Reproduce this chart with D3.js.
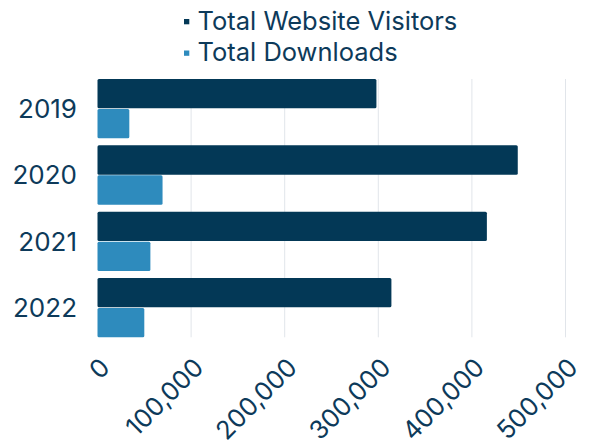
<!DOCTYPE html>
<html>
<head>
<meta charset="utf-8">
<script src="https://cdn.jsdelivr.net/npm/d3@7"></script>
<style>
  body { margin: 0; background: #fff; }
  text { font-family: Inter, "Noto Sans", sans-serif; fill: #0d3a5a; }
</style>
</head>
<body>
<div id="chart"></div>
<script>
// data
var years = ['2019', '2020', '2021', '2022'];
var visitors = [298000, 449000, 416000, 314000];
var downloads = [34000, 69500, 56500, 50000];
var seriesNames = ['Total Website Visitors', 'Total Downloads'];
var seriesColors = ['#033856', '#2e8bbd'];
var xTicks = [0, 100000, 200000, 300000, 400000, 500000];

const dims = {
  width: 592,
  height: 441,
  left: 97.5,
  right: 565.5,
  top: 79,
  bottom: 337.3
};

const svg = d3.select('#chart').append('svg')
  .attr('width', dims.width)
  .attr('height', dims.height);

const x = d3.scaleLinear()
  .domain([0, 500000])
  .range([dims.left, dims.right]);

const y = d3.scaleBand()
  .domain(years)
  .range([dims.top, dims.bottom])
  .paddingInner(0.106)
  .paddingOuter(0);

const sub = d3.scaleBand()
  .domain([0, 1])
  .range([0, y.bandwidth()])
  .paddingInner(0.022);

// gridlines
svg.append('g').attr('class', 'grid')
  .selectAll('line')
  .data(xTicks.slice(1))
  .enter().append('line')
  .attr('x1', d => x(d)).attr('x2', d => x(d))
  .attr('y1', dims.top).attr('y2', dims.bottom)
  .attr('stroke', '#e1e5ea')
  .attr('stroke-width', 1);

// bars
const rows = years.map((yr, i) => ({ year: yr, values: [visitors[i], downloads[i]] }));

const groups = svg.append('g').attr('class', 'bars')
  .selectAll('g')
  .data(rows)
  .enter().append('g')
  .attr('transform', d => `translate(0,${y(d.year)})`);

groups.selectAll('rect')
  .data(d => d.values.map((v, k) => ({ k: k, v: v })))
  .enter().append('rect')
  .attr('x', x(0))
  .attr('y', d => sub(d.k))
  .attr('width', d => x(d.v) - x(0))
  .attr('height', sub.bandwidth())
  .attr('rx', 1.5)
  .attr('fill', d => seriesColors[d.k]);

// y labels
svg.append('g').attr('class', 'ylabels')
  .selectAll('text')
  .data(years)
  .enter().append('text')
  .attr('x', 77)
  .attr('y', d => y(d) + y.bandwidth() / 2)
  .attr('dy', '0.36em')
  .attr('text-anchor', 'end')
  .style('font-size', '26px')
  .text(d => d);

// x tick labels (the reference crops them at the bottom edge too)
const fmt = d3.format(',');
svg.append('g').attr('class', 'xlabels')
  .selectAll('text')
  .data(xTicks)
  .enter().append('text')
  .attr('text-anchor', 'end')
  .attr('transform', d => `translate(${x(d) + 14},${369}) rotate(-45)`)
  .style('font-size', '25.5px')
  .text(d => fmt(d));

// legend
const legend = svg.append('g').attr('class', 'legend')
  .selectAll('g')
  .data(seriesNames)
  .enter().append('g')
  .attr('transform', (d, i) => `translate(197.5,${29.5 + i * 31.5})`);

legend.append('rect')
  .attr('x', -13.5).attr('y', -10.5)
  .attr('width', 5.3).attr('height', 5.3)
  .attr('fill', (d, i) => seriesColors[i]);

legend.append('text')
  .style('font-size', '25.5px')
  .text(d => d);
</script>
</body>
</html>
